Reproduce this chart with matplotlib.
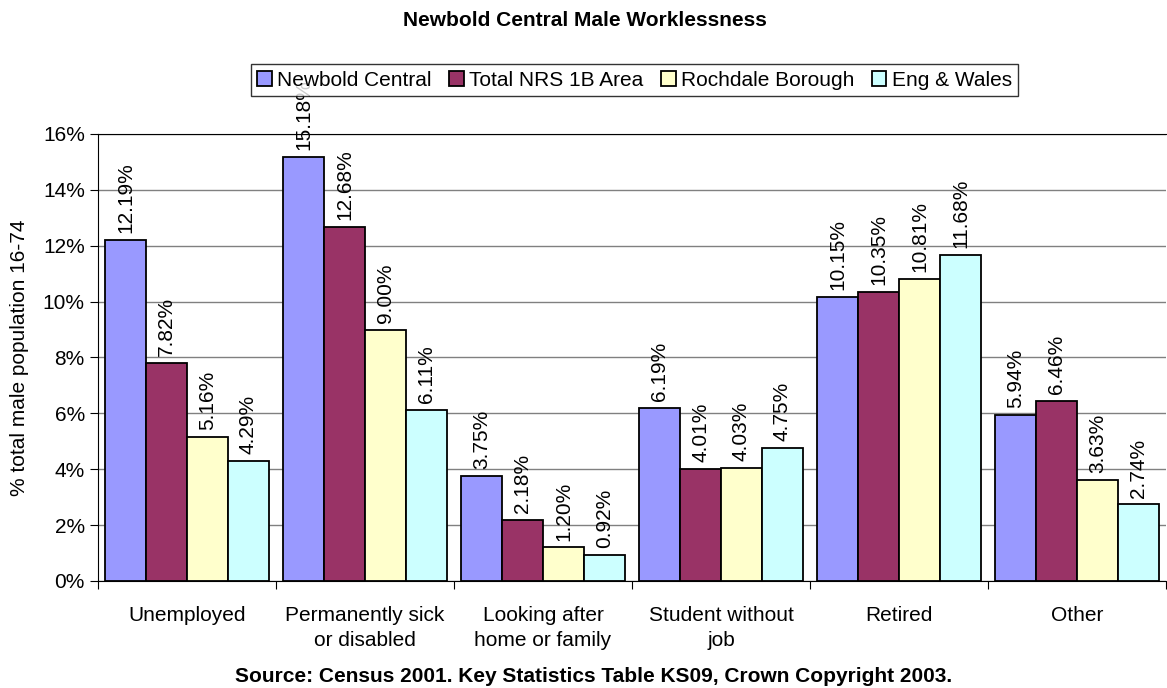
import matplotlib
matplotlib.use("Agg")
import matplotlib.pyplot as plt
import numpy as np
from matplotlib.patches import Patch

plt.rcParams['font.family'] = ['Liberation Sans', 'DejaVu Sans']

categories = ["Unemployed", "Permanently sick\nor disabled", "Looking after\nhome or family",
              "Student without\njob", "Retired", "Other"]
series_names = ["Newbold Central", "Total NRS 1B Area", "Rochdale Borough", "Eng & Wales"]
newbold = [12.19, 15.18, 3.75, 6.19, 10.15, 5.94]
nrs = [7.82, 12.68, 2.18, 4.01, 10.35, 6.46]
rochdale = [5.16, 9.00, 1.20, 4.03, 10.81, 3.63]
engwales = [4.29, 6.11, 0.92, 4.75, 11.68, 2.74]
yticks = [0, 2, 4, 6, 8, 10, 12, 14, 16]

series = [newbold, nrs, rochdale, engwales]
colors = ["#9999FF", "#993366", "#FFFFCC", "#CCFFFF"]

fig = plt.figure(figsize=(11.67, 6.88), dpi=100)
ax = fig.add_axes([98/1167, 107/688, 1068/1167, 447/688])

n = len(series)
bw = 0.23
x = np.arange(len(categories))
for i, (vals, col) in enumerate(zip(series, colors)):
    pos = x + 0.5 + (i - (n - 1) / 2) * bw
    ax.bar(pos, vals, width=bw, color=col, edgecolor="black", linewidth=1.3, zorder=3)
    for p, v in zip(pos, vals):
        ax.annotate(f"{v:.2f}%", (p, v), xytext=(0, 5), textcoords="offset points",
                    rotation=90, ha="center", va="bottom", fontsize=15, zorder=4)

ax.set_xlim(0, len(categories))
ax.set_ylim(0, 16)
ax.set_yticks(yticks)
ax.set_yticklabels([f"{t}%" for t in yticks], fontsize=15)
ax.yaxis.grid(True, color="#808080", linewidth=1, zorder=0)
ax.set_axisbelow(True)

ax.set_xticks(np.arange(len(categories) + 1))
ax.set_xticklabels([])
ax.set_xticks(x + 0.5, minor=True)
ax.set_xticklabels(categories, minor=True, fontsize=15, linespacing=1.4)
ax.tick_params(axis="x", which="minor", length=0, pad=18)
ax.tick_params(axis="x", which="major", length=6, direction="out", color="black")
ax.tick_params(axis="y", length=6, direction="out", color="black")

ax.spines["right"].set_visible(False)
ax.spines["top"].set_color("black")
ax.spines["left"].set_color("black")
ax.spines["bottom"].set_color("black")

ax.set_ylabel("% total male population 16-74", fontsize=15, labelpad=10)

fig.text(585/1167, 1 - 20/688, "Newbold Central Male Worklessness", ha="center", va="center",
         fontsize=15, fontweight="bold")
fig.text(594/1167, 1 - 677/688, "Source: Census 2001. Key Statistics Table KS09, Crown Copyright 2003.",
         ha="center", va="center", fontsize=15, fontweight="bold")

handles = [Patch(facecolor=c, edgecolor="black", linewidth=1.3) for c in colors]
leg = fig.legend(handles, series_names, loc="center", bbox_to_anchor=(634.5/1167, 1 - 80/688),
                 ncol=4, fontsize=15, frameon=True, fancybox=False, edgecolor="black",
                 handlelength=0.7, handleheight=0.7, handletextpad=0.25, columnspacing=0.85,
                 borderpad=0.3, borderaxespad=0)
leg.get_frame().set_linewidth(1)
leg.set_zorder(10)

fig.savefig("out.png", dpi=100)
